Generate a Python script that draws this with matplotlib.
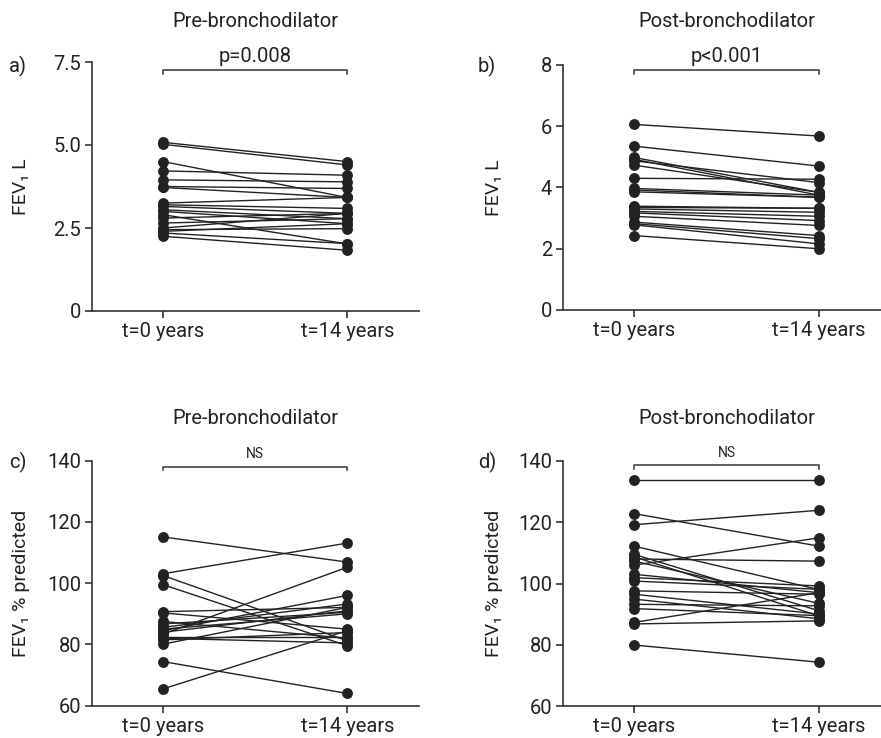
import matplotlib
matplotlib.use("Agg")
import matplotlib.pyplot as plt

plt.rcParams['font.family'] = ['Roboto', 'DejaVu Sans']

groups = ["t=0 years", "t=14 years"]

# a) FEV1 L, pre-bronchodilator
a_t0 = [5.08, 5.02, 4.50, 4.22, 3.95, 3.75, 3.72, 3.25, 3.20, 3.15,
        3.05, 3.00, 2.90, 2.80, 2.65, 2.50, 2.45, 2.35, 2.25, 2.40]
a_t14 = [4.50, 4.40, 3.42, 4.09, 3.89, 3.69, 3.42, 3.42, 3.09, 2.94,
         2.78, 2.63, 2.02, 2.94, 2.78, 2.94, 2.48, 2.03, 1.83, 2.63]

# b) FEV1 L, post-bronchodilator
b_t0 = [6.06, 5.35, 4.98, 4.92, 4.87, 4.73, 4.30, 3.97, 3.92, 3.86,
        3.39, 3.35, 3.30, 3.22, 3.17, 3.06, 2.87, 2.82, 2.78, 2.43]
b_t14 = [5.68, 4.70, 3.84, 3.75, 4.16, 3.84, 4.27, 3.75, 3.68, 3.68,
         3.32, 3.32, 3.19, 3.06, 2.92, 2.76, 2.43, 2.33, 2.16, 2.00]

# c) FEV1 % predicted, pre-bronchodilator
c_t0 = [115.1, 103.1, 102.5, 99.5, 90.7, 90.3, 87.5, 86.7, 85.6, 85.0,
        84.5, 84.0, 83.4, 82.3, 82.0, 81.5, 80.1, 74.4, 65.5]
c_t14 = [106.9, 113.1, 81.2, 79.6, 92.1, 85.0, 82.0, 90.5, 93.2, 90.0,
         96.0, 91.0, 105.2, 82.3, 80.5, 83.9, 92.1, 64.0, 84.5]

# d) FEV1 % predicted, post-bronchodilator
d_t0 = [133.8, 122.8, 119.2, 112.2, 109.5, 108.7, 108.0, 107.3, 106.0, 103.0,
        101.9, 100.8, 97.6, 96.5, 94.9, 93.2, 91.8, 87.3, 86.8, 79.9]
d_t14 = [133.8, 112.2, 123.9, 98.0, 91.1, 89.4, 107.3, 93.5, 114.9, 97.0,
         99.2, 98.1, 96.5, 90.0, 88.5, 92.7, 89.5, 97.0, 87.8, 74.3]

W, H = 881, 738
fig = plt.figure(figsize=(W / 100, H / 100), dpi=100)

ink = '#222222'
spine_c = '#333333'
fs = 14.5


def px_axes(left, right, top, bottom):
    return fig.add_axes([left / W, 1 - bottom / H, (right - left) / W, (bottom - top) / H])


def panel(ax, t0, t14, ylim, yticks, yticklabels, xlim, ylabel, ylabel_x,
          bracket_y, bracket_d, ptxt, pfont, poff):
    for y0, y1 in zip(t0, t14):
        ax.plot([0, 1], [y0, y1], '-', color=ink, lw=1.0, zorder=2)
    ax.plot([0] * len(t0), t0, 'o', color=ink, ms=6.8, zorder=3, clip_on=False)
    ax.plot([1] * len(t14), t14, 'o', color=ink, ms=6.8, zorder=3, clip_on=False)
    ax.set_xlim(*xlim)
    ax.set_ylim(*ylim)
    ax.set_xticks([0, 1])
    ax.set_xticklabels(groups)
    ax.set_yticks(yticks)
    ax.set_yticklabels(yticklabels)
    for s in ['top', 'right']:
        ax.spines[s].set_visible(False)
    for s in ['left', 'bottom']:
        ax.spines[s].set_linewidth(1.2)
        ax.spines[s].set_color(spine_c)
    ax.tick_params(length=5, width=1.2, color=spine_c, labelsize=fs,
                   labelcolor=ink, pad=3)
    ax.set_ylabel(ylabel, fontsize=14, color=ink)
    ax.yaxis.set_label_coords(ylabel_x, 0.5)
    ax.plot([0, 0, 1, 1], [bracket_y - bracket_d, bracket_y, bracket_y, bracket_y - bracket_d],
            '-', color=spine_c, lw=1.1, clip_on=False)
    ax.annotate(ptxt, xy=(0.5, bracket_y), xytext=(0, poff), textcoords='offset points',
                ha='center', va='bottom', fontsize=pfont, color=ink, annotation_clip=False)


ax_a = px_axes(92.3, 419, 62, 311)
panel(ax_a, a_t0, a_t14, (0, 7.5), [0, 2.5, 5.0, 7.5], ['0', '2.5', '5.0', '7.5'],
      (-0.385, 1.39), 'FEV₁ L', -0.19, 7.26, 0.12, 'p=0.008', fs, 3)

ax_b = px_axes(563.3, 881, 65, 310)
panel(ax_b, b_t0, b_t14, (0, 8), [0, 2, 4, 6, 8], ['0', '2', '4', '6', '8'],
      (-0.384, 1.336), 'FEV₁ L', -0.19, 7.84, 0.13, 'p<0.001', fs, 3)

ax_c = px_axes(92.3, 419, 460.7, 705.7)
panel(ax_c, c_t0, c_t14, (60, 140), [60, 80, 100, 120, 140], ['60', '80', '100', '120', '140'],
      (-0.385, 1.39), 'FEV₁ % predicted', -0.19, 138.0, 1.2, 'NS', 10, 4)

ax_d = px_axes(563.3, 881, 461, 706)
panel(ax_d, d_t0, d_t14, (60, 140), [60, 80, 100, 120, 140], ['60', '80', '100', '120', '140'],
      (-0.384, 1.336), 'FEV₁ % predicted', -0.19, 138.6, 1.2, 'NS', 10, 4)

# panel titles and letters
fig.text(255 / W, 1 - 21.7 / H, 'Pre-bronchodilator', ha='center', va='center', fontsize=fs, color=ink)
fig.text(727 / W, 1 - 21.7 / H, 'Post-bronchodilator', ha='center', va='center', fontsize=fs, color=ink)
fig.text(255 / W, 1 - 418 / H, 'Pre-bronchodilator', ha='center', va='center', fontsize=fs, color=ink)
fig.text(727 / W, 1 - 418 / H, 'Post-bronchodilator', ha='center', va='center', fontsize=fs, color=ink)

for lab, x, y in [('a)', 18, 66), ('b)', 487, 66), ('c)', 18, 462), ('d)', 487, 462)]:
    fig.text(x / W, 1 - y / H, lab, ha='center', va='center', fontsize=fs, color=ink)

fig.savefig('out.png', dpi=100)
